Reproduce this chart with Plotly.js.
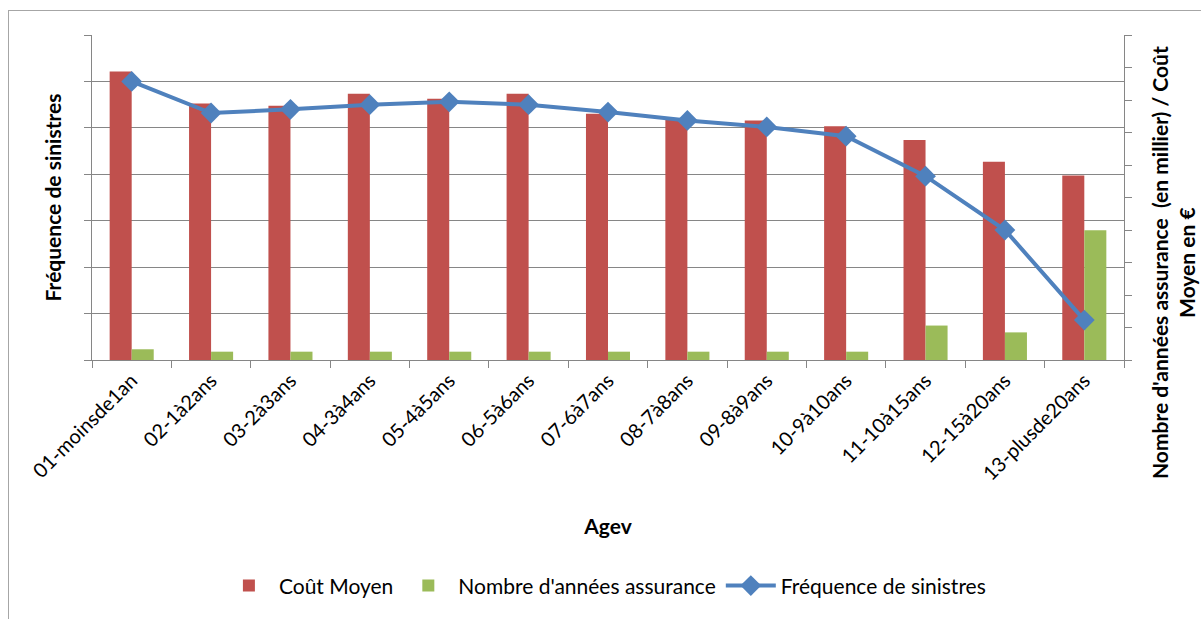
<!DOCTYPE html>
<html>
<head>
<meta charset="utf-8">
<script src="https://cdn.plot.ly/plotly-3.0.1.min.js"></script>
<style>
  html, body { margin: 0; padding: 0; background: #ffffff; }
  #frame { position: absolute; left: 8px; top: 10px; width: 1200px; height: 620px; border: 1px solid #a6a6a6; box-sizing: border-box; }
  #chart { position: absolute; left: 0; top: 0; width: 1201px; height: 619px; }
</style>
</head>
<body>
<div id="frame"></div>
<div id="chart"></div>
<script>
const categories = ["01-moinsde1an", "02-1à2ans", "03-2à3ans", "04-3à4ans", "05-4à5ans", "06-5à6ans", "07-6à7ans", "08-7à8ans", "09-8à9ans", "10-9à10ans", "11-10à15ans", "12-15à20ans", "13-plusde20ans"];
const coutMoyen = [4440, 3945, 3910, 4095, 4020, 4095, 3790, 3700, 3685, 3595, 3385, 3050, 2840];
const nbAnnees = [165, 128, 128, 128, 128, 128, 128, 128, 128, 128, 530, 425, 1995];
const frequence = [0.300, 0.266, 0.270, 0.275, 0.278, 0.275, 0.267, 0.258, 0.251, 0.241, 0.198, 0.140, 0.043];

const FONT = "Lato, 'Noto Sans', sans-serif";
const GRAY = "#868686";

const traces = [
  { type: "bar", name: "Coût Moyen", x: categories, y: coutMoyen, yaxis: "y",
    marker: { color: "#C0504D" } },
  { type: "bar", name: "Nombre d'années assurance", x: categories, y: nbAnnees, yaxis: "y",
    marker: { color: "#9BBB59" } },
  { type: "scatter", mode: "lines+markers", name: "Fréquence de sinistres", x: categories, y: frequence, yaxis: "y2",
    line: { color: "#4F81BD", width: 4 },
    marker: { symbol: "diamond", size: 16, color: "#4F81BD" } }
];

const layout = {
  width: 1201, height: 619,
  margin: { l: 92, r: 77, t: 35, b: 253 },
  paper_bgcolor: "rgba(0,0,0,0)", plot_bgcolor: "rgba(0,0,0,0)",
  font: { family: FONT, size: 20, color: "#000000" },
  barmode: "group", bargap: 0.445, bargroupgap: 0,
  showlegend: true,
  legend: { orientation: "h", x: 0.497, xanchor: "center", y: -0.695, yanchor: "middle",
            font: { family: FONT, size: 21 }, itemwidth: 50, traceorder: "normal" },
  xaxis: { type: "category", range: [-0.5, 12.5], tickson: "boundaries", ticks: "outside", ticklen: 7, tickcolor: GRAY,
           showline: true, linecolor: GRAY, linewidth: 1, tickangle: -45,
           tickfont: { family: FONT, size: 20 },
           title: { text: "<b>Agev</b>", font: { family: FONT, size: 21 }, standoff: 35 } },
  yaxis: { side: "right", range: [0, 5000], dtick: 500, showgrid: false, zeroline: false,
           ticks: "outside", ticklen: 7, tickcolor: GRAY, showticklabels: false,
           showline: true, linecolor: GRAY },
  yaxis2: { overlaying: "y", side: "left", range: [0, 0.35], dtick: 0.05, showgrid: true,
            gridcolor: GRAY, gridwidth: 1, zeroline: false,
            ticks: "outside", ticklen: 7, tickcolor: GRAY, showticklabels: false,
            showline: true, linecolor: GRAY,
            title: { text: "<b>Fréquence de sinistres</b>", font: { family: FONT, size: 21 }, standoff: 16 } },
  annotations: [
    { text: "<b>Nombre d'années assurance  (en millier) / Coût<br>Moyen en €</b>",
      xref: "paper", yref: "paper", x: 1.047, y: 0.30, xanchor: "center", yanchor: "middle",
      textangle: -90, showarrow: false, align: "center",
      font: { family: FONT, size: 21, color: "#000000" } }
  ]
};

Plotly.newPlot("chart", traces, layout, { displayModeBar: false, staticPlot: true });
</script>
</body>
</html>
